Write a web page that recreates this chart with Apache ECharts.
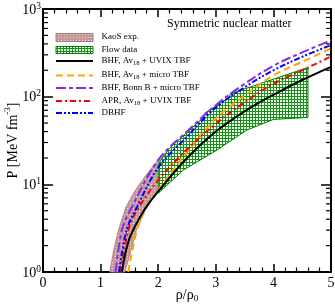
<!DOCTYPE html>
<html><head><meta charset="utf-8">
<script src="https://cdn.jsdelivr.net/npm/echarts@6/dist/echarts.min.js"></script>
<style>html,body{margin:0;padding:0;background:#fff}#c{width:335px;height:306px}</style>
</head><body><div id="c"></div>
<script>
const SERIF = '"Liberation Serif","DejaVu Serif",serif';

// x ticks (rho/rho0) and y minor ticks (log)
const xTickValues = [0, 1, 2, 3, 4, 5];
const yMinorTicks = [2,3,4,5,6,7,8,9,20,30,40,50,60,70,80,90,200,300,400,500,600,700,800,900];

// Series: [rho/rho0, P (MeV fm^-3)]
const bhfUvix  = [[1.37,1],[1.5,2.4],[1.75,5],[2,8.3],[2.5,20],[3,40],[3.5,68],[4,105],[4.5,155],[5,219]];
const bhfMicro = [[1.48,1],[1.63,3],[1.77,5],[2,8.6],[2.5,23],[3,56],[3.5,103],[4,175],[4.5,250],[5,355]];
const bonnMicro= [[1.26,1],[1.37,3],[1.51,5],[2,19],[2.5,40],[3,80],[3.5,140],[4,225],[4.5,320],[5,438]];
const aprUvix  = [[1.35,1],[1.48,3],[1.63,5],[2,11.2],[2.5,25],[3,49],[3.5,86],[4,140],[4.5,200],[5,287]];
const dbhf     = [[1.32,1],[1.45,3],[1.6,5],[2,15.5],[2.5,35],[3,75],[3.5,128],[4,200],[4.5,285],[5,387]];

// KaoS band outline (left edge up, then right edge down)
const kaosBand = [[1.16,1],[1.23,1.8],[1.31,3],[1.44,5.5],[1.6,8.5],[1.78,12.5],[1.94,17],[2.07,21],[2.17,24],[2.22,19],
                  [2.21,14],[2.13,11.5],[2.01,9],[1.9,7],[1.77,5],[1.62,3],[1.52,1.7],[1.42,1]];
// Flow band outline
const flowBand = [[2.0,7.9],[2.0,17],[2.2,26],[2.8,59],[2.81,65],[3.24,99],[3.25,108],[4.6,215],[4.6,58],
                  [4.0,55],[3.54,41.6],[3.02,24.6],[2.44,14.6]];

function makePattern(w, h, draw) {
  const c = document.createElement('canvas'); c.width = w; c.height = h;
  draw(c.getContext('2d'));
  return { image: c, repeat: 'repeat' };
}
const flowFill = makePattern(3, 3, g => {
  g.fillStyle = '#fff'; g.fillRect(0,0,3,3);
  g.fillStyle = '#139413'; g.fillRect(0,0,3,1); g.fillRect(0,0,1,3);
});
const kaosFill = makePattern(3, 3, g => {
  g.fillStyle = '#c29a9a'; g.fillRect(0,0,3,3);
  g.fillStyle = '#ead8d8'; g.fillRect(1,1,1,1);
});

function polySeries(name, pts, fill, stroke, z) {
  return {
    type: 'custom', name, coordinateSystem: 'cartesian2d', z, silent: true,
    data: [pts[0]],
    renderItem: (params, api) => ({
      type: 'polygon',
      shape: { points: pts.map(p => api.coord(p)) },
      style: { fill, stroke, lineWidth: 1 }
    })
  };
}
function lineSeries(name, data, color, type, z) {
  return { type: 'line', name, data, symbol: 'none', showSymbol: false, smooth: 0.35, z,
    lineStyle: { color, width: 2, type, cap: 'butt' }, silent: true };
}

const chart = echarts.init(document.getElementById('c'), null, { renderer: 'canvas' });

const axisLineStyle = { color: '#000', width: 2 };
const legendRows = [
  { kind: 'rect', fill: kaosFill, stroke: '#a87c7c', y: 37.5, h: 8, text: 'KaoS exp.' },
  { kind: 'rect', fill: flowFill, stroke: '#008000', y: 50, h: 7, text: 'Flow data' },
  { kind: 'line', color: '#000', dash: null, y: 61, text: 'BHF, Av{sub|18} + UVIX TBF' },
  { kind: 'line', color: '#FFA500', dash: [7,4], y: 75.5, text: 'BHF, Av{sub|18} + micro TBF' },
  { kind: 'line', color: '#8A2BE2', dash: [10,3,4,3], y: 88, text: 'BHF, Bonn B + micro TBF' },
  { kind: 'line', color: '#FF0000', dash: [6,3,2,3], y: 101, text: 'APR, Av{sub|18} + UVIX TBF' },
  { kind: 'line', color: '#0000FF', dash: [6,2,2,2,2,2], y: 113, text: 'DBHF' }
];
const graphics = [];
legendRows.forEach(r => {
  if (r.kind === 'rect') {
    graphics.push({ type: 'rect', shape: { x: 56, y: r.y - r.h / 2, width: 37, height: r.h },
      style: { fill: r.fill, stroke: r.stroke, lineWidth: 1 } });
  } else {
    graphics.push({ type: 'line', shape: { x1: 56, y1: r.y, x2: 93, y2: r.y },
      style: { stroke: r.color, lineWidth: 2, lineDash: r.dash } });
  }
  graphics.push({ type: 'text', x: 101.5, y: r.y - 0.5,
    style: { text: r.text, fontSize: 9, fontFamily: SERIF, fill: '#000', lineHeight: 12,
      align: 'left', verticalAlign: 'middle',
      rich: { sub: { fontSize: 6.5, fontFamily: SERIF, lineHeight: 6, verticalAlign: 'bottom' } } } });
});
graphics.push({ type: 'text', x: 167, y: 24,
  style: { text: 'Symmetric nuclear matter', fontSize: 12, fontFamily: SERIF, fill: '#000', align: 'left', verticalAlign: 'middle' } });

const xCommon = {
  type: 'value', min: 0, max: 5, interval: 1,
  axisLine: { show: true, onZero: false, lineStyle: axisLineStyle },
  axisTick: { show: true, inside: true, length: 8, lineStyle: { color: '#000', width: 1.5 } },
  minorTick: { show: true, splitNumber: 5, length: 4.5, lineStyle: { color: '#000', width: 1.2 } },
  splitLine: { show: false }, minorSplitLine: { show: false }
};
const yCommon = {
  type: 'log', logBase: 10, min: 1, max: 1000, splitNumber: 3,
  axisLine: { show: true, onZero: false, lineStyle: axisLineStyle },
  axisTick: { show: true, inside: true, length: 10, lineStyle: { color: '#000', width: 1.5 } },
  splitLine: { show: false }, minorTick: { show: false }, minorSplitLine: { show: false }
};

chart.setOption({
  animation: false,
  backgroundColor: '#fff',
  grid: { left: 43, right: 4, top: 9, bottom: 34, containLabel: false, outerBoundsMode: 'none' },
  xAxis: [
    Object.assign({}, xCommon, {
      position: 'bottom',
      axisLabel: { show: true, fontSize: 14, fontFamily: SERIF, color: '#000', margin: 4,
        showMinLabel: true, showMaxLabel: true, hideOverlap: false,
        formatter: v => xTickValues.includes(v) ? String(v) : '' },
      name: '{a|ρ/ρ}{sub|0}', nameLocation: 'middle', nameGap: 15, nameMoveOverlap: false,
      nameTextStyle: { color: '#000', fontFamily: SERIF, fontSize: 14,
        rich: { a: { fontSize: 14, fontFamily: SERIF, lineHeight: 16, color: '#000' },
                sub: { fontSize: 9, fontFamily: SERIF, lineHeight: 6, verticalAlign: 'bottom', color: '#000' } } }
    }),
    Object.assign({}, xCommon, { position: 'top', axisLabel: { show: false } })
  ],
  yAxis: [
    Object.assign({}, yCommon, {
      position: 'left',
      axisLabel: { show: true, margin: 2, color: '#000', showMinLabel: true, showMaxLabel: true, hideOverlap: false,
        formatter: v => '{b|10}{s|' + Math.round(Math.log10(v)) + '}',
        rich: { b: { fontSize: 14, fontFamily: SERIF, color: '#000', padding: [2,0,0,0], verticalAlign: 'bottom' },
                s: { fontSize: 9.5, fontFamily: SERIF, color: '#000', lineHeight: 9, verticalAlign: 'top' } } },
      name: '{m|P [MeV fm}{s|-3}{m|]}', nameLocation: 'middle', nameGap: 23, nameMoveOverlap: false,
      nameTextStyle: { color: '#000', fontFamily: SERIF, fontSize: 14,
        rich: { m: { fontSize: 14, fontFamily: SERIF, color: '#000', padding: [3,0,0,0], verticalAlign: 'bottom' },
                s: { fontSize: 9, fontFamily: SERIF, color: '#000', lineHeight: 9, verticalAlign: 'top' } } }
    }),
    Object.assign({}, yCommon, { position: 'right', axisLabel: { show: false } })
  ],
  graphic: graphics,
  series: [
    polySeries('KaoS exp.', kaosBand, kaosFill, '#b08585', 1),
    polySeries('Flow data', flowBand, flowFill, '#008000', 2),
    lineSeries('BHF, Av18 + UVIX TBF', bhfUvix, '#000', 'solid', 6),
    lineSeries('BHF, Av18 + micro TBF', bhfMicro, '#FFA500', [7,4], 5),
    lineSeries('BHF, Bonn B + micro TBF', bonnMicro, '#8A2BE2', [10,3,4,3], 5),
    lineSeries('APR, Av18 + UVIX TBF', aprUvix, '#FF0000', [6,3,2,3], 5),
    lineSeries('DBHF', dbhf, '#0000FF', [6,2,2,2,2,2], 5),
    {
      type: 'custom', name: 'yMinorTicks', coordinateSystem: 'cartesian2d', z: 10, silent: true,
      data: yMinorTicks.map(v => [0, v]),
      renderItem: (params, api) => {
        const v = api.value(1);
        const l = api.coord([0, v]);
        const r = api.coord([5, v]);
        return { type: 'group', children: [
          { type: 'line', shape: { x1: l[0], y1: l[1], x2: l[0] + 5, y2: l[1] }, style: { stroke: '#000', lineWidth: 1.2 } },
          { type: 'line', shape: { x1: r[0], y1: r[1], x2: r[0] - 5, y2: r[1] }, style: { stroke: '#000', lineWidth: 1.2 } }
        ] };
      }
    }
  ]
});
</script>
</body></html>
